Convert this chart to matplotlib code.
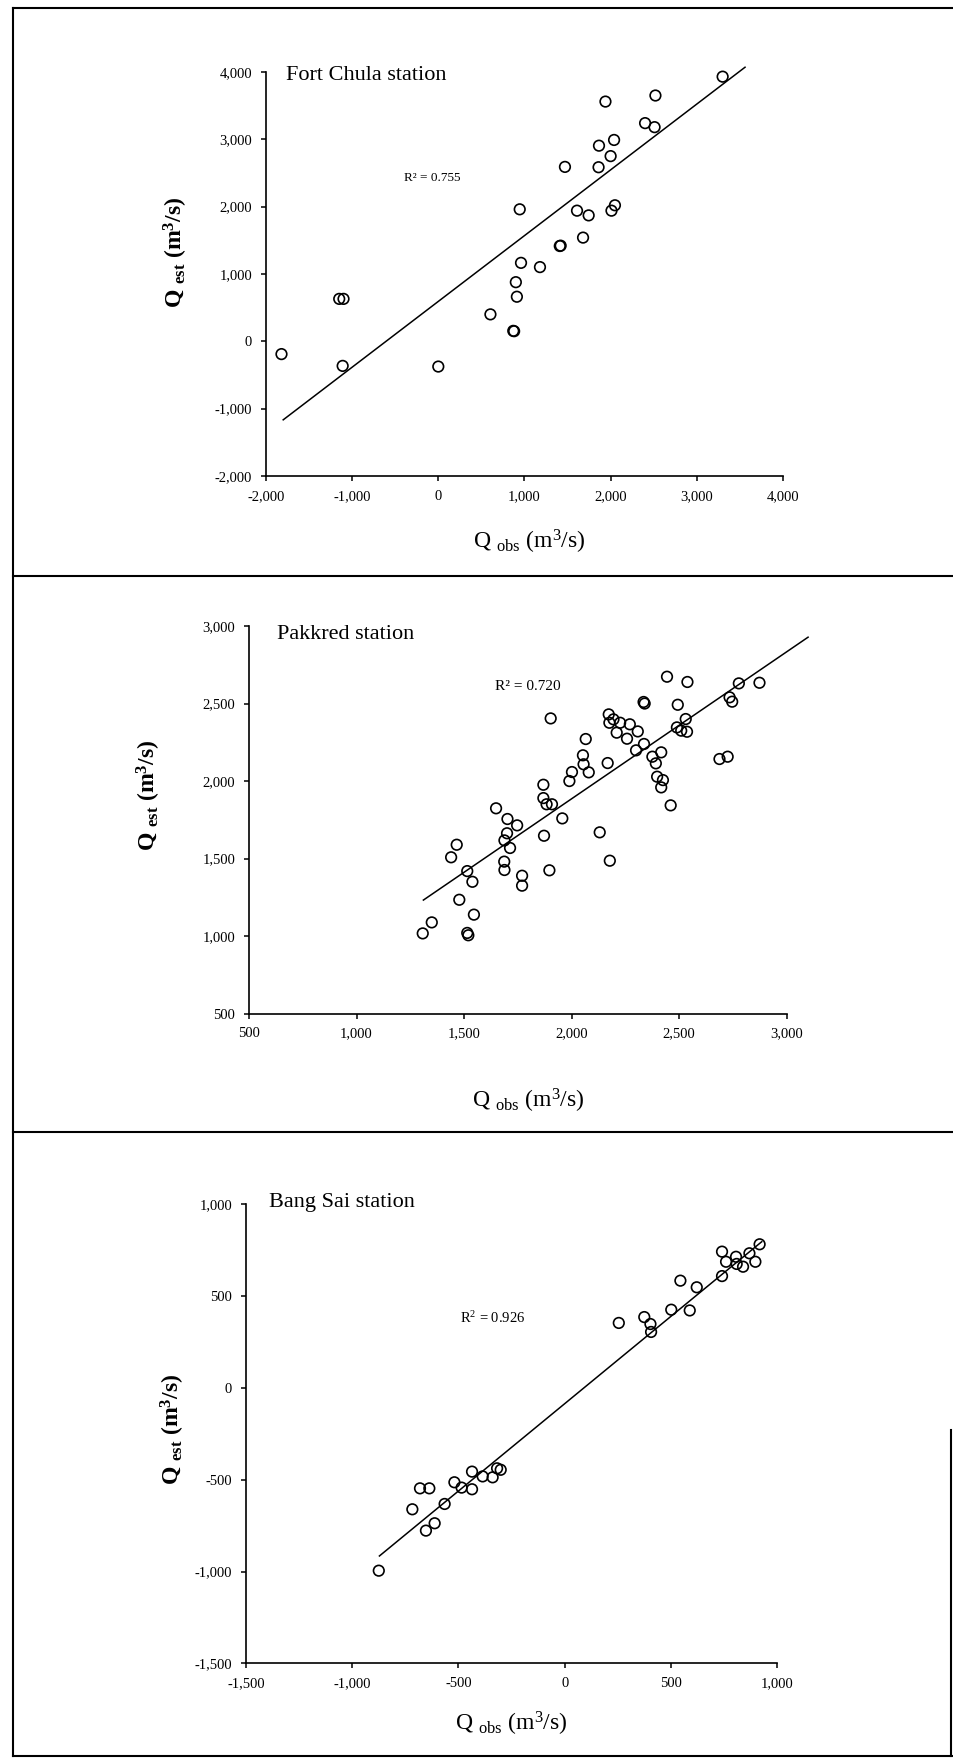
import matplotlib
matplotlib.use("Agg")
import matplotlib.pyplot as plt
from matplotlib.lines import Line2D
from matplotlib.ticker import FuncFormatter, MultipleLocator

plt.rcParams['font.family'] = ['Liberation Serif', 'DejaVu Serif']
plt.rcParams['mathtext.fontset'] = 'custom'
plt.rcParams['mathtext.rm'] = 'Liberation Serif'
plt.rcParams['mathtext.it'] = 'Liberation Serif:italic'
plt.rcParams['mathtext.bf'] = 'Liberation Serif:bold'

# Fort Chula station
fc_obs = [-1820, -1150, -1100, -1110, 0, 605, 870, 880, 900, 912, 960, 945, 1180,
          1410, 1420, 1470, 1610, 1680, 1745, 1860, 1865, 2000, 2010, 2050, 2040,
          1940, 2400, 2510, 2520, 3300]
fc_est = [-190, 630, 630, -365, -375, 400, 155, 150, 878, 662, 1165, 1960, 1102,
          1415, 1420, 2590, 1940, 1540, 1870, 2585, 2905, 2750, 1940, 2020, 2990,
          3560, 3240, 3180, 3650, 3930]
fc_fit_x = [-1800, 3560]
fc_fit_y = [-1166, 4070]

# Pakkred station
pk_obs = [1308, 1350, 1478, 1515, 1520, 1546, 1539, 1515, 1440, 1466,
          1649, 1702, 1700, 1747, 1688, 1714, 1687, 1688, 1770, 1770,
          1897, 1872, 1903, 1869, 1869, 1884, 1909, 1957, 1990, 2002,
          2053, 2056, 2080, 2066, 2131, 2178, 2168, 2173, 2176, 2195,
          2226, 2210, 2271, 2258, 2308, 2300, 2337, 2335, 2340, 2444,
          2539, 2494, 2531, 2490, 2510, 2537, 2376, 2417, 2392, 2398,
          2425, 2417, 2461, 2688, 2726, 2735, 2747, 2778, 2874]
pk_est = [1017, 1088, 1234, 1020, 1005, 1138, 1350, 1419, 1508, 1589,
          1824, 1755, 1663, 1714, 1617, 1568, 1480, 1426, 1389, 1325,
          1424, 1647, 2404, 1976, 1890, 1850, 1850, 1759, 2000, 2058,
          2166, 2108, 2056, 2271, 1669, 1486, 2116, 2430, 2376, 2398,
          2376, 2312, 2366, 2273, 2320, 2198, 2239, 2510, 2500, 2673,
          2639, 2492, 2400, 2346, 2325, 2318, 2157, 2185, 2114, 2028,
          2006, 1959, 1843, 2142, 2157, 2540, 2512, 2630, 2634]
pk_fit_x = [1311, 3100]
pk_fit_y = [1232, 2928]

# Bang Sai station
bs_obs = [-875, -717, -681, -637, -653, -612, -565, -519, -485, -436, -436, -386,
          -339, -318, -301, 255, 375, 404, 407, 502, 589, 545, 622, 741, 741, 760,
          807, 810, 840, 870, 898, 918]
bs_est = [-995, -661, -547, -547, -777, -737, -632, -514, -543, -552, -456, -482,
          -487, -438, -446, 353, 385, 347, 304, 425, 421, 583, 547, 608, 741, 686,
          713, 674, 659, 732, 686, 781]
bs_fit_x = [-872, 928]
bs_fit_y = [-915, 795]

panels = [
    dict(name="Fort Chula station", obs=fc_obs, est=fc_est, fx=fc_fit_x, fy=fc_fit_y,
         lim=(-2000, 4000), step=1000, r2="R² = 0.755", r2pos=(-398, 2431),
         rect=[0.2788, 0.7294, 0.5419, 0.2297], title_pos=(0.039, 0.990),
         xlab=(0.509, -0.163), ylab=(-0.174, 0.554), r2size=9.5),
    dict(name="Pakkred station", obs=pk_obs, est=pk_est, fx=pk_fit_x, fy=pk_fit_y,
         lim=(500, 3000), step=500, r2="R² = 0.720", r2pos=(1644, 2608),
         rect=[0.2610, 0.4238, 0.5635, 0.2203], title_pos=(0.052, 0.9775),
         xlab=(0.519, -0.225), ylab=(-0.186, 0.564), r2size=11),
    dict(name="Bang Sai station", obs=bs_obs, est=bs_est, fx=bs_fit_x, fy=bs_fit_y,
         lim=(-1500, 1000), step=500, r2="R$^2$ = 0.926", r2pos=(-492, 378),
         rect=[0.2579, 0.0543, 0.5566, 0.2612], title_pos=(0.044, 1.004),
         xlab=(0.499, -0.131), ylab=(-0.137, 0.510), r2size=10.5),
]

fig = plt.figure(figsize=(9.54, 17.59), dpi=100)

fmt = FuncFormatter(lambda v, p: f"{v:,.0f}")

for p in panels:
    ax = fig.add_axes(p["rect"])
    ax.scatter(p["obs"], p["est"], s=58, facecolors="none", edgecolors="black",
               linewidths=1.2, zorder=3, clip_on=False)
    ax.plot(p["fx"], p["fy"], color="black", lw=1.1, clip_on=False)
    ax.set_xlim(*p["lim"])
    ax.set_ylim(*p["lim"])
    ax.xaxis.set_major_locator(MultipleLocator(p["step"]))
    ax.yaxis.set_major_locator(MultipleLocator(p["step"]))
    ax.xaxis.set_major_formatter(fmt)
    ax.yaxis.set_major_formatter(fmt)
    for s in ["top", "right"]:
        ax.spines[s].set_visible(False)
    for s in ["left", "bottom"]:
        ax.spines[s].set_linewidth(1.2)
    ax.tick_params(direction="out", length=3.5, width=1.1, labelsize=10.5, pad=6.5)
    ax.text(p["title_pos"][0], p["title_pos"][1], p["name"], transform=ax.transAxes,
            ha="left", va="center", fontsize=16)
    ax.text(p["r2pos"][0], p["r2pos"][1], p["r2"], ha="left", va="center",
            fontsize=p["r2size"])
    ax.text(p["xlab"][0], p["xlab"][1], r"Q $_{\rm obs}$ (m$^{3}$/s)", transform=ax.transAxes,
            ha="center", va="center", fontsize=17)
    ax.text(p["ylab"][0], p["ylab"][1], r"Q $_{\mathbf{est}}$ (m$^{\mathbf{3}}$/s)",
            transform=ax.transAxes, ha="center", va="center", fontsize=17,
            fontweight="bold", rotation=90)

# scanned page frame and panel separators
x0, x1 = 13 / 954, 1.0
for yy in [1 - 7.5 / 1759, 1 - 576 / 1759, 1 - 1132 / 1759, 1 - 1756 / 1759]:
    fig.add_artist(Line2D([x0, x1], [yy, yy], color="black", lw=1.5))
fig.add_artist(Line2D([x0, x0], [1 - 1756 / 1759, 1 - 7.5 / 1759], color="black", lw=1.5))
fig.add_artist(Line2D([951 / 954, 951 / 954], [1 - 1756 / 1759, 1 - 1430 / 1759],
                      color="black", lw=1.5))

fig.savefig("out.png", dpi=100)
